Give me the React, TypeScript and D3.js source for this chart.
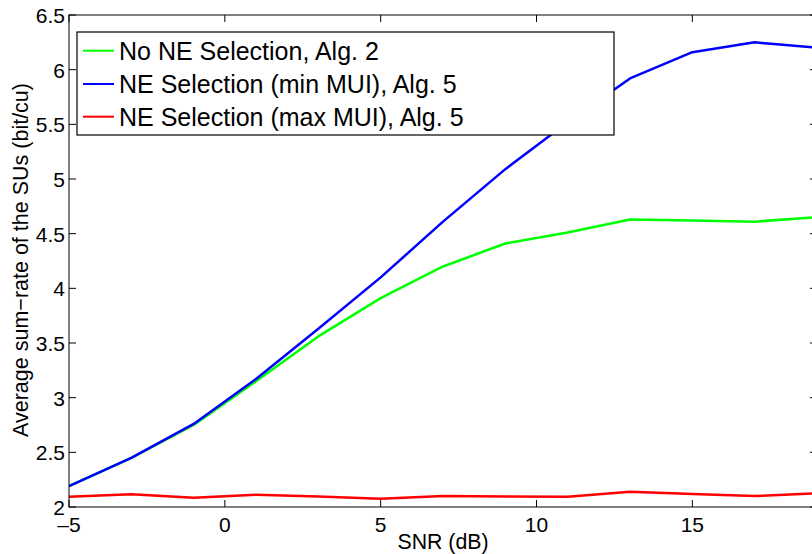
import React from "react";
import * as d3 from "d3";

const snr = [-5, -3, -1, 1, 3, 5, 7, 9, 11, 13, 15, 17, 19];
const noSelection = [2.19, 2.45, 2.75, 3.15, 3.56, 3.91, 4.2, 4.41, 4.51, 4.63, 4.62, 4.61, 4.65];
const minMUI = [2.19, 2.45, 2.76, 3.17, 3.63, 4.1, 4.61, 5.09, 5.52, 5.92, 6.16, 6.25, 6.2];
const maxMUI = [2.094, 2.116, 2.085, 2.113, 2.095, 2.076, 2.1, 2.095, 2.094, 2.14, 2.12, 2.1, 2.125];
const xTicks = [-5, 0, 5, 10, 15];
const yTicks = [2, 2.5, 3, 3.5, 4, 4.5, 5, 5.5, 6, 6.5];
const seriesNames = [
  "No NE Selection, Alg. 2",
  "NE Selection (min MUI), Alg. 5",
  "NE Selection (max MUI), Alg. 5",
];
const seriesColors = ["#00ff00", "#0000ff", "#ff0000"];

const W = 812;
const H = 554;
const L = 69, R = 817, T = 15, B = 507;
const FONT = "'Liberation Sans', Arial, Helvetica, sans-serif";

export default function App() {
  const x = d3.scaleLinear().domain([-5, 19]).range([L, R]);
  const y = d3.scaleLinear().domain([2, 6.5]).range([B, T]);
  const series = [noSelection, minMUI, maxMUI];
  const line = d3
    .line<number>()
    .x((_, i) => x(snr[i]))
    .y((d) => y(d));
  const fmtX = (v: number) => (v < 0 ? "\u2013" + Math.abs(v) : String(v));
  const tickLen = 7;
  const legendRows = [50.7, 84, 116.7];

  return (
    <svg
      width={W}
      height={H}
      style={{ position: "absolute", left: 0, top: 0, background: "#fff" }}
      fontFamily={FONT}
    >
      <defs>
        <clipPath id="plotclip">
          <rect x={L} y={T} width={R - L} height={B - T} />
        </clipPath>
      </defs>
      <rect x={0} y={0} width={W} height={H} fill="#fff" />
      <g clipPath="url(#plotclip)">
        {series.map((s, i) => (
          <path
            key={i}
            d={line(s) || ""}
            fill="none"
            stroke={seriesColors[i]}
            strokeWidth={2.5}
            strokeLinejoin="round"
          />
        ))}
      </g>
      <rect x={L} y={T} width={R - L} height={B - T} fill="none" stroke="#000" strokeWidth={1} />
      {xTicks.map((t) => (
        <g key={"x" + t}>
          <line x1={x(t)} x2={x(t)} y1={B} y2={B - tickLen} stroke="#000" />
          <line x1={x(t)} x2={x(t)} y1={T} y2={T + tickLen} stroke="#000" />
          <text x={x(t)} y={532} fontSize={21} textAnchor="middle" fill="#000">
            {fmtX(t)}
          </text>
        </g>
      ))}
      {yTicks.map((t) => (
        <g key={"y" + t}>
          <line x1={L} x2={L + tickLen} y1={y(t)} y2={y(t)} stroke="#000" />
          <line x1={R} x2={R - tickLen} y1={y(t)} y2={y(t)} stroke="#000" />
          <text x={65} y={y(t) + 8} fontSize={21} textAnchor="end" fill="#000">
            {String(t)}
          </text>
        </g>
      ))}
      <text x={(L + R) / 2} y={549} fontSize={21.3} textAnchor="middle" fill="#000">
        SNR (dB)
      </text>
      <text
        transform={`translate(27.5, 260) rotate(-90)`}
        fontSize={21.5}
        textAnchor="middle"
        fill="#000"
      >
        Average sum−rate of the SUs (bit/cu)
      </text>
      <rect x={77} y={32} width={537} height={103} fill="#fff" stroke="#000" strokeWidth={1.2} />
      {seriesNames.map((n, i) => (
        <g key={n}>
          <line
            x1={83}
            x2={114}
            y1={legendRows[i]}
            y2={legendRows[i]}
            stroke={seriesColors[i]}
            strokeWidth={2}
          />
          <text x={119} y={legendRows[i] + 8.8} fontSize={25} fill="#000">
            {n}
          </text>
        </g>
      ))}
    </svg>
  );
}
